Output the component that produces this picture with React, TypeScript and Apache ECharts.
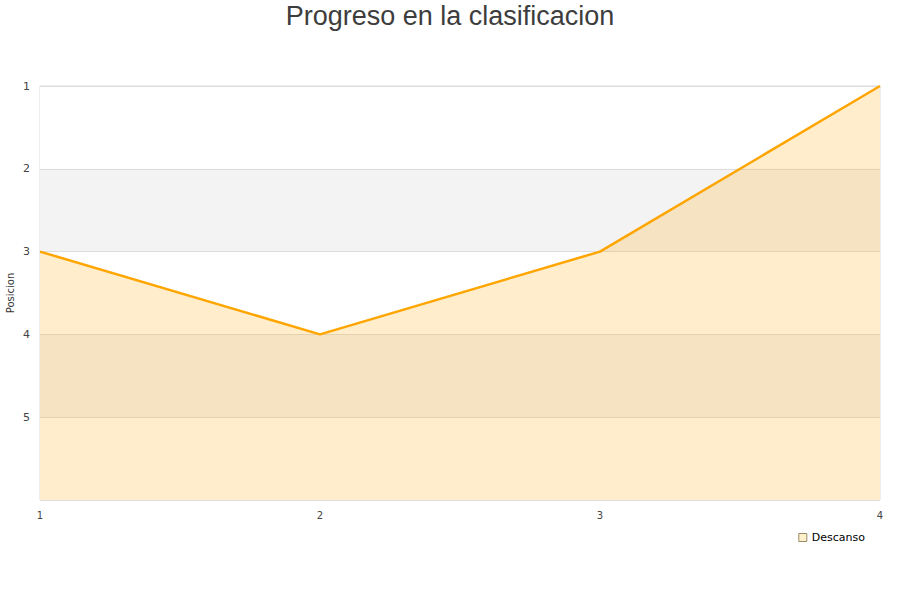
import React, { useEffect, useRef } from "react";
import * as echarts from "echarts";

const categories = ["1", "2", "3", "4"];
const positions = [3, 4, 3, 1];
const seriesName = "Descanso";
const titleText = "Progreso en la clasificacion";
const yAxisName = "Posicion";

export default function App() {
  const ref = useRef<HTMLDivElement>(null);
  useEffect(() => {
    if (!ref.current) return;
    const chart = echarts.init(ref.current, null, { renderer: "svg" });
    chart.setOption({
      animation: false,
      backgroundColor: "#fff",
      title: {
        text: titleText,
        left: "center",
        top: -3,
        textStyle: {
          fontFamily: "Liberation Sans, Arial, sans-serif",
          fontSize: 27,
          fontWeight: "normal",
          color: "#3d3d3d",
        },
      },
      graphic: [
        {
          type: "text",
          x: 10,
          y: 293,
          rotation: Math.PI / 2,
          style: {
            text: yAxisName,
            fontFamily: "DejaVu Sans",
            fontSize: 10,
            fill: "#333",
            align: "center",
            verticalAlign: "middle",
          },
        },
      ],
      legend: {
        right: 30,
        top: 527,
        itemWidth: 8,
        itemHeight: 8,
        itemGap: 7,
        textStyle: { fontFamily: "DejaVu Sans", fontSize: 11, color: "#000" },
        data: [
          {
            name: seriesName,
            icon: "rect",
            itemStyle: { color: "#fff0cc", borderColor: "#9a8a6a", borderWidth: 1 },
          },
        ],
      },
      grid: {
        left: 40,
        right: 20,
        top: 86,
        bottom: 100,
        outerBoundsMode: "none",
        containLabel: false,
        show: true,
        borderColor: "#dddddd",
        borderWidth: 1,
      },
      xAxis: {
        type: "category",
        data: categories,
        boundaryGap: false,
        axisLine: { show: false },
        axisTick: { show: false },
        axisLabel: {
          fontFamily: "DejaVu Sans",
          fontSize: 10,
          color: "#444",
          margin: 10,
        },
        splitLine: { show: false },
      },
      yAxis: {
        type: "value",
        inverse: true,
        min: 1,
        max: 6,
        interval: 1,
        axisLine: { show: false },
        axisTick: { show: false },
        axisLabel: {
          fontFamily: "DejaVu Sans",
          fontSize: 11,
          color: "#444",
          margin: 10,
          formatter: (v: number) => (v === 6 ? "" : String(v)),
        },
        splitLine: { show: true, lineStyle: { color: "#dddddd", width: 1 } },
        splitArea: { show: true, areaStyle: { color: ["#ffffff", "#f3f3f3"] } },
      },
      series: [
        {
          name: seriesName,
          type: "line",
          data: positions,
          showSymbol: false,
          symbol: "none",
          lineStyle: { color: "#ffa500", width: 2.5 },
          itemStyle: { color: "#ffa500" },
          areaStyle: { color: "#ffa500", opacity: 0.2, origin: "end" },
        },
      ],
    });
    return () => chart.dispose();
  }, []);
  return (
    <div
      ref={ref}
      style={{ position: "absolute", left: 0, top: 0, width: 900, height: 600 }}
    />
  );
}
